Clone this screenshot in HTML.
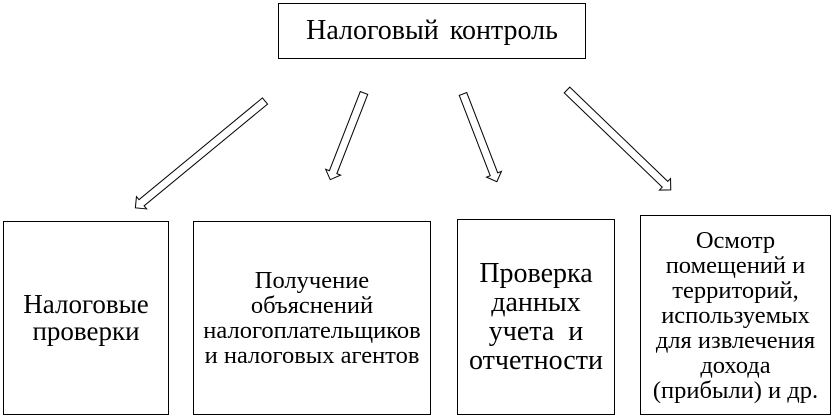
<!DOCTYPE html>
<html><head><meta charset="utf-8"><style>
body{margin:0;width:834px;height:419px;background:#fff;position:relative;overflow:hidden;font-family:"Liberation Serif",serif;color:#000}
.b{position:absolute;border:1.3px solid #000;box-sizing:border-box;display:flex;align-items:center;justify-content:center;text-align:center;white-space:nowrap}
</style></head><body>
<div class="b" style="left:278px;top:3px;width:308px;height:56px;font-size:28px;word-spacing:4px">Налоговый контроль</div>
<div class="b" style="left:3px;top:221px;width:166px;height:194px;font-size:27px;line-height:27px">Налоговые<br>проверки</div>
<div class="b" style="left:193px;top:221px;width:238px;height:194px;font-size:24.5px;line-height:25px">Получение<br>объяснений<br>налогоплательщиков<br>и налоговых агентов</div>
<div class="b" style="left:457px;top:219px;width:158px;height:196px;font-size:28px;line-height:29px">Проверка<br>данных<br>учета&nbsp; и<br>отчетности</div>
<div class="b" style="left:640px;top:215px;width:191px;height:200px;font-size:24.5px;line-height:25px">Осмотр<br>помещений и<br>территорий,<br>используемых<br>для извлечения<br>дохода<br>(прибыли) и др.</div>
<svg width="834" height="419" style="position:absolute;left:0;top:0" fill="#fff" stroke="#000" stroke-width="1">
<g transform="translate(265,101) rotate(140.5)"><polygon points="0,-4 160,-4 160,-8 168,0 160,8 160,4 0,4"/></g>
<g transform="translate(364,93) rotate(111.3)"><polygon points="0,-4 85,-4 85,-8 93,0 85,8 85,4 0,4"/></g>
<g transform="translate(463,94) rotate(68.9)"><polygon points="0,-4 86,-4 86,-8 94,0 86,8 86,4 0,4"/></g>
<g transform="translate(567,90) rotate(43.9)"><polygon points="0,-4 136,-4 136,-8 144,0 136,8 136,4 0,4"/></g>
</svg>
</body></html>
